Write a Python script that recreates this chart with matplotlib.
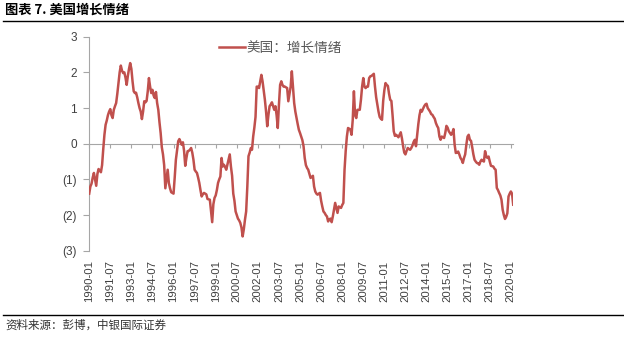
import numpy as np
import matplotlib
matplotlib.use('Agg')
import matplotlib.pyplot as plt
from matplotlib.lines import Line2D

plt.rcParams['font.family'] = ['Liberation Sans', 'Noto Sans CJK SC', 'DejaVu Sans']

# 美国：增长情绪, monthly values starting 1990-01
y1990 = [-1.40, -1.2, -1.12, -0.95, -0.82, -1.0, -1.18, -0.85, -0.71, -0.75, -0.8, -0.6]
y1991 = [-0.15, 0.25, 0.53, 0.65, 0.8, 0.9, 0.97, 0.8, 0.72, 0.95, 1.05, 1.14]
y1992 = [1.4, 1.7, 2.0, 2.19, 2.05, 1.98, 2.0, 1.85, 1.65, 1.9, 2.1, 2.26]
y1993 = [2.1, 1.75, 1.47, 1.42, 1.43, 1.3, 1.14, 1.0, 0.9, 0.69, 0.9, 1.19]
y1994 = [1.16, 1.2, 1.47, 1.84, 1.6, 1.42, 1.51, 1.35, 1.28, 1.45, 1.14, 0.95]
y1995 = [0.6, 0.3, -0.1, -0.3, -0.6, -1.25, -1.0, -0.73, -1.1, -1.25, -1.36, -1.38]
y1996 = [-1.4, -0.95, -0.45, -0.2, 0.07, 0.13, 0.05, -0.03, 0.04, -0.2, -0.62, -0.4]
y1997 = [-0.21, -0.2, -0.17, -0.12, -0.25, -0.45, -0.73, -0.78, -0.82, -0.95, -1.1, -1.3]
y1998 = [-1.48, -1.42, -1.38, -1.4, -1.42, -1.55, -1.56, -1.57, -1.9, -2.2, -1.7, -1.52]
y1999 = [-1.45, -1.3, -1.1, -1.0, -0.92, -0.4, -0.64, -0.59, -0.65, -0.73, -0.59, -0.45]
y2000 = [-0.3, -0.64, -0.9, -1.4, -1.6, -1.9, -2.0, -2.1, -2.15, -2.22, -2.35, -2.6]
y2001 = [-2.4, -2.13, -1.9, -1.2, -0.35, -0.25, -0.12, -0.17, 0.2, 0.45, 0.75, 1.6]
y2002 = [1.6, 1.56, 1.75, 1.93, 1.75, 1.5, 1.23, 0.9, 0.49, 0.8, 1.05, 1.1]
y2003 = [1.16, 1.05, 0.95, 1.05, 0.8, 0.44, 1.1, 1.65, 1.75, 1.65, 1.6, 1.6]
y2004 = [1.58, 1.56, 1.19, 1.4, 1.6, 2.03, 1.6, 1.14, 0.9, 0.72, 0.55, 0.39]
y2005 = [0.3, 0.2, 0.1, -0.07, -0.4, -0.6, -0.68, -0.73, -0.85, -0.96, -0.93, -0.9]
y2006 = [-1.2, -1.34, -1.4, -1.43, -1.4, -1.38, -1.6, -1.76, -1.9, -1.94, -2.0, -2.04]
y2007 = [-2.18, -2.12, -2.1, -2.2, -2.04, -1.85, -1.66, -1.8, -1.94, -1.76, -1.78, -1.8]
y2008 = [-1.72, -1.66, -0.73, -0.2, 0.2, 0.44, 0.42, 0.39, 0.25, 0.67, 1.47, 0.8]
y2009 = [0.72, 0.95, 0.95, 0.95, 1.23, 1.6, 1.84, 1.6, 1.56, 1.6, 1.6, 1.84]
y2010 = [1.89, 1.9, 1.93, 1.96, 1.6, 1.3, 1.1, 0.9, 0.75, 0.7, 0.67, 1.2]
y2011 = [1.5, 1.7, 1.65, 1.62, 1.4, 1.23, 1.2, 0.8, 0.35, 0.22, 0.25, 0.22]
y2012 = [0.18, 0.25, 0.32, 0.15, -0.07, -0.25, -0.3, -0.2, -0.12, -0.15, -0.17, -0.12]
y2013 = [-0.05, 0.05, 0.11, -0.07, 0.25, 0.55, 0.8, 0.95, 0.9, 0.98, 1.05, 1.1]
y2014 = [1.12, 1.0, 0.95, 0.9, 0.83, 0.81, 0.75, 0.7, 0.58, 0.5, 0.44, 0.2]
y2015 = [0.11, 0.2, 0.18, 0.16, 0.3, 0.5, 0.45, 0.35, 0.3, 0.25, 0.3, 0.41]
y2016 = [-0.03, -0.26, -0.25, -0.22, -0.3, -0.4, -0.45, -0.54, -0.4, -0.3, -0.03, 0.2]
y2017 = [0.25, 0.11, 0.08, -0.1, -0.3, -0.45, -0.5, -0.54, -0.55, -0.59, -0.5, -0.45]
y2018 = [-0.48, -0.5, -0.21, -0.35, -0.4, -0.36, -0.5, -0.62, -0.63, -0.64, -0.7, -0.73]
y2019 = [-1.24, -1.3, -1.38, -1.45, -1.57, -1.85, -2.0, -2.11, -2.05, -1.95, -1.48, -1.4]
y2020 = [-1.34, -1.4, -1.71]

sentiment = (y1990 + y1991 + y1992 + y1993 + y1994 + y1995 + y1996 + y1997 + y1998
             + y1999 + y2000 + y2001 + y2002 + y2003 + y2004 + y2005 + y2006 + y2007
             + y2008 + y2009 + y2010 + y2011 + y2012 + y2013 + y2014 + y2015 + y2016
             + y2017 + y2018 + y2019 + y2020)
months = np.arange(len(sentiment))

x_labels = ['1990-01', '1991-07', '1993-01', '1994-07', '1996-01', '1997-07', '1999-01',
            '2000-07', '2002-01', '2003-07', '2005-01', '2006-07', '2008-01', '2009-07',
            '2011-01', '2012-07', '2014-01', '2015-07', '2017-01', '2018-07', '2020-01']
x_ticks = np.arange(len(x_labels)) * 18
y_ticks = [3, 2, 1, 0, -1, -2, -3]
y_labels = ['3', '2', '1', '0', '(1)', '(2)', '(3)']

line_color = '#C0504D'
axis_gray = '#A6A6A6'
text_color = '#404040'

fig = plt.figure(figsize=(6.24, 3.41), dpi=100)
W, H = 624, 341
ax = fig.add_axes([89.2 / W, 1 - 250.7 / H, (513.2 - 89.2) / W, (250.7 - 36.7) / H])

ax.plot(months, sentiment, color=line_color, lw=1.8, label='美国：增长情绪', zorder=3)

ax.set_xlim(0, 362)
ax.set_ylim(-3, 3)

ax.set_yticks(y_ticks)
ax.set_yticklabels(y_labels)
ax.tick_params(axis='y', direction='out', length=4, color=axis_gray, width=0.8,
               labelsize=8.5, labelcolor=text_color, pad=5)

# axis line crossing at zero with small ticks
ax.spines['bottom'].set_position(('data', 0))
ax.spines['bottom'].set_color(axis_gray)
ax.spines['left'].set_color(axis_gray)
ax.spines['top'].set_visible(False)
ax.spines['right'].set_visible(False)
ax.set_xticks(x_ticks)
ax.tick_params(axis='x', direction='out', length=3, color=axis_gray, width=0.8,
               labelbottom=False)

# date labels at the bottom
sec = ax.secondary_xaxis('bottom')
sec.set_xticks(x_ticks)
sec.set_xticklabels(x_labels, rotation=90)
sec.spines['bottom'].set_visible(False)
sec.tick_params(axis='x', length=0, pad=7, labelsize=8.2, labelcolor=text_color)

leg = ax.legend(loc='center left', bbox_to_anchor=(219 / W, 1 - 48 / H),
                bbox_transform=fig.transFigure, frameon=False, handlelength=1.9,
                handletextpad=0.15, borderpad=0, borderaxespad=0,
                prop={'family': 'Noto Sans CJK SC', 'size': 9.8}, labelcolor='#595959')

fig.text(5 / W, 1 - 10 / H, '图表 7. 美国增长情绪', fontsize=9.5, fontweight='bold',
         family=['Noto Sans CJK SC', 'DejaVu Sans'], va='center', ha='left', color='black')
fig.add_artist(Line2D([3 / W, 1], [1 - 21 / H, 1 - 21 / H], color='black', lw=1.0))
fig.add_artist(Line2D([3 / W, 1], [1 - 315 / H, 1 - 315 / H], color='black', lw=1.0))
fig.text(5 / W, 1 - 325.5 / H, '资料来源：彭博，中银国际证券', fontsize=8.3, style='italic',
         family=['Noto Sans CJK SC', 'DejaVu Sans'], va='center', ha='left', color='#333333')

fig.savefig('out.png', dpi=100, facecolor='white')
